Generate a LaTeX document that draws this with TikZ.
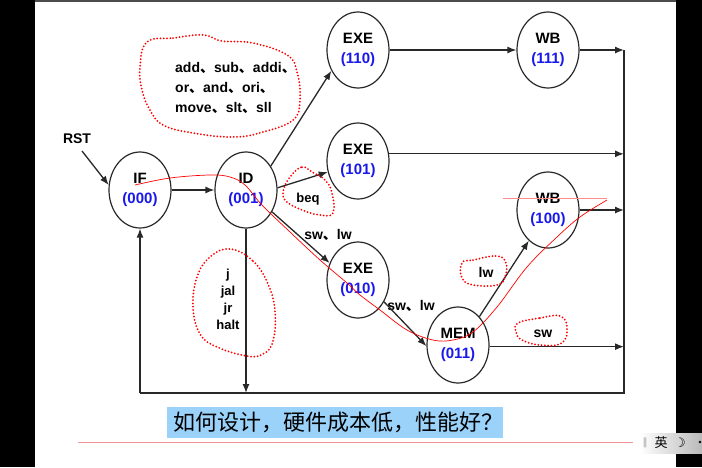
\documentclass[tikz,border=0pt]{standalone}
\usepackage{fontspec}
\setmainfont{Liberation Sans}
\newfontfamily\cjk{Noto Sans CJK SC}
\newfontfamily\djv{DejaVu Sans}
\usetikzlibrary{shapes.geometric,arrows.meta}
\definecolor{linec}{RGB}{40,40,40}
\definecolor{codeblue}{RGB}{25,25,235}
\definecolor{boxblue}{RGB}{155,210,250}
\definecolor{pinkline}{RGB}{240,150,150}
\newcommand{\dn}{{\cjk 、}}
\begin{document}
\begin{tikzpicture}[x=1pt,y=-1pt,
  st/.style={ellipse, draw=linec, line width=1.2pt, minimum width=62pt, minimum height=76pt, inner sep=0pt, align=center, font=\bfseries\fontsize{15}{20}\selectfont},
  arr/.style={draw=linec, line width=1.3pt, -{Latex[length=9pt,width=7pt]}},
  ln/.style={draw=linec, line width=1.3pt},
  lbl/.style={font=\bfseries\fontsize{14}{20}\selectfont, inner sep=0pt, text=black},
  blob/.style={draw=red, line width=2pt, line cap=round, dash pattern=on 0pt off 3.3pt},
  scrawl/.style={draw=red, line width=0.7pt},
]
\useasboundingbox (0,0) rectangle (702,467);
\fill[white] (0,0) rectangle (702,467);
% screen frame
\fill[black] (0,0) rectangle (35,467);
\fill[black] (676,0) rectangle (702,467);
\fill[gray!60!black] (35,0) rectangle (676,1.5);

% states
\node[st] (IF)   at (140,190) {IF\\\textcolor{codeblue}{(000)}};
\node[st] (ID)   at (246,190) {ID\\\textcolor{codeblue}{(001)}};
\node[st] (e110) at (358,50)  {EXE\\\textcolor{codeblue}{(110)}};
\node[st] (wb1)  at (548,50)  {WB\\\textcolor{codeblue}{(111)}};
\node[st] (e101) at (358,161) {EXE\\\textcolor{codeblue}{(101)}};
\node[st] (wb2)  at (548,210) {WB\\\textcolor{codeblue}{(100)}};
\node[st] (e010) at (358,280) {EXE\\\textcolor{codeblue}{(010)}};
\node[st] (mem)  at (458,345) {MEM\\\textcolor{codeblue}{(011)}};

% frame lines
\coordinate (rt) at (624,50);
\coordinate (rb) at (624,393);
\coordinate (lb) at (140,393);
\coordinate (idb) at (246,393);
\draw[ln] (rt) -- (rb) -- (lb);

% labels
\node[lbl] (rst) at (77,139) {RST};
\coordinate (rsts) at (82,151);
\node[lbl, anchor=west, align=left] (ops) at (175,88) {add\dn sub\dn addi\dn\\or\dn and\dn ori\dn\\move\dn slt\dn sll};
\node[lbl, font=\bfseries\fontsize{13}{20}\selectfont] (beq) at (308,199) {beq};
\node[lbl] (swlw1) at (328,235) {sw\dn lw};
\node[lbl, align=center, font=\bfseries\fontsize{13}{17}\selectfont] (jmp) at (228,299.5) {j\\jal\\jr\\halt};
\node[lbl] (swlw2) at (411,306) {sw\dn lw};
\node[lbl] (lwl) at (486,272) {lw};
\node[lbl] (swl) at (543,334) {sw};

% arrows
\draw[arr] (rsts) -- (IF.171);
\draw[arr] (IF.east) -- (ID.west);
\draw[arr] (ID.44) -- (e110.218);
\draw[arr] (ID.4) -- (e101.200);
\draw[arr] (ID.320) -- (e010.149);
\draw[arr] (e010.320) -- (mem.182);
\draw[arr] (mem.53) -- (wb2.238);
\draw[arr] (e110.east) -- (wb1.west);
\draw[arr] (wb1.east) -- (wb1.east -| rt);
\draw[arr] (e101.13) -- (e101.13 -| rt);
\draw[arr] (wb2.east) -- (wb2.east -| rt);
\draw[arr] (mem.-3) -- (mem.-3 -| rt);
\draw[arr] (lb) -- (IF.south);
\draw[arr] (ID.south) -- (idb);

% red dotted annotations
\draw[blob] plot[smooth cycle, tension=0.7] coordinates {(147,42) (173,38) (203,35) (222,41) (253,43) (287,55) (297,72) (300,100) (293,120) (263,132) (233,137) (193,133) (163,125) (150,110) (142,90) (140,67)};
\draw[blob] plot[smooth cycle, tension=0.7] coordinates {(290,177) (302,167) (312,172) (325,180) (332,193) (333,213) (320,215) (302,210) (287,202) (283,192)};
\draw[blob] plot[smooth cycle, tension=0.7] coordinates {(230,249) (253,261) (268,284) (275,311) (273,341) (263,354) (247,356) (217,347) (200,334) (193,307) (197,277) (210,257)};
\draw[blob] plot[smooth cycle, tension=0.7] coordinates {(462,263) (473,260) (497,256) (506,263) (505,277) (497,285) (473,285) (462,278)};
\draw[blob] plot[smooth cycle, tension=0.7] coordinates {(518,323) (540,318) (560,316) (567,327) (562,343) (540,345) (522,340) (516,332)};

% red handwritten stroke
\draw[scrawl] plot[smooth, tension=0.6] coordinates {(135,185) (170,178) (210,175) (230,177) (245,185) (262,205) (290,232) (320,260) (347,283) (360,295) (380,310) (407,330) (433,340) (453,340) (473,332) (497,307) (527,267) (557,237) (580,217) (607,200)};
\draw[red!45, line width=0.6pt] (503,198) -- (607,198);

% question box
\node[fill=boxblue, anchor=north west, minimum width=336pt, minimum height=31pt, inner sep=0pt] (qbox) at (167,407) {};
\node[anchor=west, inner sep=0pt, font=\cjk\fontsize{22}{22}\selectfont] (qtext) at (173,422.5) {如何设计，硬件成本低，性能好？};
\draw[pinkline, line width=0.8pt] (78,442) -- (633,442);

% IME widget
\shade[left color=white, right color=gray!55] (640,433) rectangle (702,453);
\node[text=gray!70, font=\djv\fontsize{10}{10}\selectfont, inner sep=0pt] (imebar) at (645,443) {‖};
\node[font=\cjk\fontsize{13}{13}\selectfont, inner sep=0pt] (imeen) at (661,443) {英};
\node[font=\djv\fontsize{13}{13}\selectfont, inner sep=0pt] (imemoon) at (680,443) {☽};
\fill[black] (700,442) circle (1.3);
\end{tikzpicture}
\end{document}
